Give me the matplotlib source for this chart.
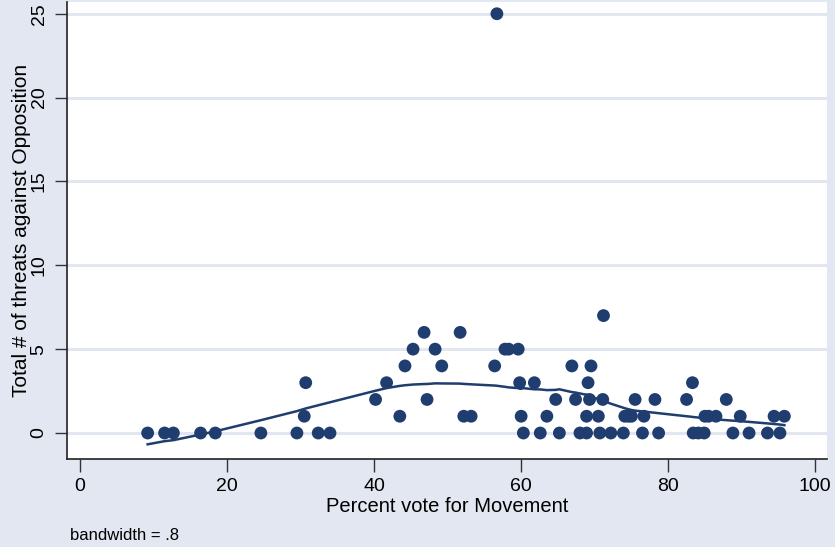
import numpy as np
import matplotlib
matplotlib.use("Agg")
import matplotlib.pyplot as plt

# ---- data ----
vote_y0 = [9.2, 11.5, 12.7, 16.4, 18.4, 24.6, 29.5, 32.4, 34.0, 60.3, 62.6, 65.2, 68.0, 68.9,
           70.7, 72.2, 73.9, 76.5, 78.7, 83.4, 84.1, 84.9, 88.8, 91.0, 93.5, 95.2]
vote_y1 = [30.5, 43.5, 52.2, 53.2, 60.0, 63.5, 68.9, 70.5, 74.1, 74.6, 75.0, 76.7, 85.0, 85.5,
           86.5, 89.8, 94.4, 95.8]
vote_y2 = [40.2, 47.2, 64.7, 67.4, 69.3, 71.1, 75.5, 78.2, 82.5, 87.9]
vote_y3 = [30.7, 41.7, 59.8, 61.8, 69.1, 83.3]
vote_y4 = [44.2, 49.2, 56.4, 66.9, 69.5]
vote_y5 = [45.3, 48.3, 57.8, 58.3, 59.6]
vote_y6 = [46.8, 51.7]
vote_y7 = [71.2]
vote_y25 = [56.7]

groups = [(0, vote_y0), (1, vote_y1), (2, vote_y2), (3, vote_y3), (4, vote_y4),
          (5, vote_y5), (6, vote_y6), (7, vote_y7), (25, vote_y25)]
x = np.array([v for t, vs in groups for v in vs])
y = np.array([t for t, vs in groups for v in vs], dtype=float)

bandwidth = 0.8
x_ticks = [0, 20, 40, 60, 80, 100]
y_ticks = [0, 5, 10, 15, 20, 25]


def stata_lowess(x, y, bw):
    order = np.argsort(x, kind="mergesort")
    xs, ys = x[order], y[order]
    n = len(xs)
    k = int(np.floor((n * bw - 0.5) / 2))
    out = np.empty(n)
    for i in range(n):
        lo, hi = max(0, i - k), min(n - 1, i + k)
        xx, yy = xs[lo:hi + 1], ys[lo:hi + 1]
        delta = 1.0001 * max(xs[hi] - xs[i], xs[i] - xs[lo])
        u = np.abs(xx - xs[i]) / delta
        w = np.where(u < 1, (1 - u ** 3) ** 3, 0.0)
        sw = w.sum()
        xm = (w * xx).sum() / sw
        ym = (w * yy).sum() / sw
        sxx = (w * (xx - xm) ** 2).sum()
        b = (w * (xx - xm) * (yy - ym)).sum() / sxx if sxx > 0 else 0.0
        out[i] = ym + b * (xs[i] - xm)
    return xs, out


xs, ys_fit = stata_lowess(x, y, bandwidth)

navy = "#1F3D6E"
bg = "#E2E7F1"
grid_c = "#E1E6F0"

plt.rcParams["font.family"] = ["Liberation Sans", "DejaVu Sans"]
fig = plt.figure(figsize=(8.35, 5.47), dpi=100, facecolor=bg)
ax_left, ax_bottom_px, ax_top_px, ax_right = 67, 459, 2, 827
ax = fig.add_axes([ax_left / 835, (547 - ax_bottom_px) / 547,
                   (ax_right - ax_left) / 835, (ax_bottom_px - ax_top_px) / 547])
ax.set_facecolor("white")

ax.set_xlim(-1.77, 101.6)
ax.set_ylim(-1.55, 25.7)

for t in y_ticks:
    ax.axhline(t, color=grid_c, lw=2.2, zorder=0)

ax.scatter(x, y, s=85, color=navy, edgecolors="none", zorder=3)
ax.plot(xs, ys_fit, color=navy, lw=1.8, zorder=2)

ax.set_xticks(x_ticks)
ax.set_yticks(y_ticks)
ax.set_xticklabels([str(v) for v in x_ticks], fontsize=14)
ax.set_yticklabels([str(v) for v in y_ticks], fontsize=14, rotation=90, va="center")
ax.tick_params(axis="both", direction="out", length=9, width=1, color="#333333")
ax.tick_params(axis="x", pad=5)
ax.tick_params(axis="y", pad=5)

for s in ["top", "right"]:
    ax.spines[s].set_visible(False)
for s in ["left", "bottom"]:
    ax.spines[s].set_color("#222222")
    ax.spines[s].set_linewidth(1.2)

h_px = ax_bottom_px - ax_top_px
w_px = ax_right - ax_left
ax.set_xlabel("Percent vote for Movement", fontsize=14.5, va="center")
ax.xaxis.set_label_coords(0.5, (ax_bottom_px - 507) / h_px)
ax.set_ylabel("Total # of threats against Opposition", fontsize=15, va="center")
ax.yaxis.set_label_coords((22 - ax_left) / w_px, 0.5)

fig.text(70 / 835, 1 - 535 / 547, "bandwidth = .8", fontsize=12, va="center", ha="left")

fig.savefig("out.png", dpi=100, facecolor=bg)
